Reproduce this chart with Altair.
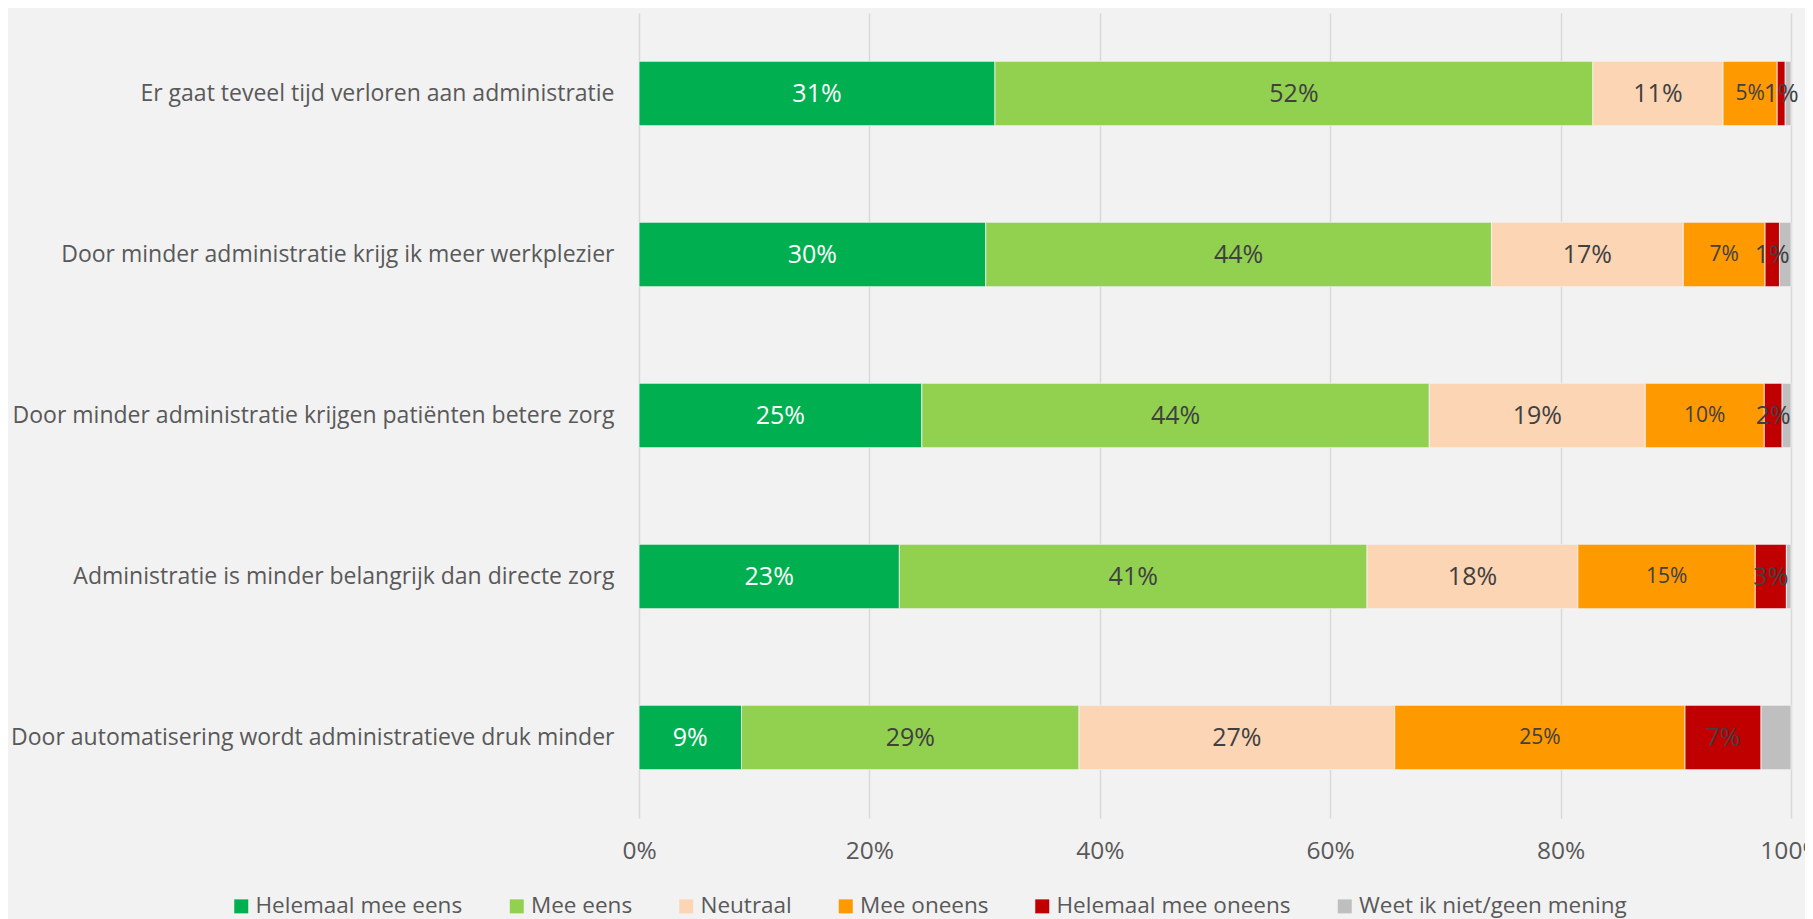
import altair as alt
import pandas as pd

questions = [
    "Er gaat teveel tijd verloren aan administratie",
    "Door minder administratie krijg ik meer werkplezier",
    "Door minder administratie krijgen patiënten betere zorg",
    "Administratie is minder belangrijk dan directe zorg",
    "Door automatisering wordt administratieve druk minder",
]
categories = [
    "Helemaal mee eens",
    "Mee eens",
    "Neutraal",
    "Mee oneens",
    "Helemaal mee oneens",
    "Weet ik niet/geen mening",
]
colors = ["#00B050", "#92D050", "#FCD5B5", "#FF9900", "#C00000", "#BFBFBF"]

helemaal_eens = [30.9, 30.1, 24.55, 22.6, 8.9]
mee_eens = [51.9, 43.9, 44.05, 40.6, 29.3]
neutraal = [11.3, 16.65, 18.75, 18.3, 27.4]
mee_oneens = [4.7, 7.1, 10.33, 15.4, 25.2]
helemaal_oneens = [0.7, 1.25, 1.55, 2.7, 6.6]
weet_niet = [0.5, 1.0, 0.77, 0.4, 2.6]

x_ticks = [0, 20, 40, 60, 80, 100]

series = [helemaal_eens, mee_eens, neutraal, mee_oneens, helemaal_oneens, weet_niet]
rows = []
for ci, (cat, vals) in enumerate(zip(categories, series)):
    for q, v in zip(questions, vals):
        rows.append({"q": q, "cat": cat, "idx": ci, "value": v})
df = pd.DataFrame(rows)

FONT = "Open Sans"

base = (
    alt.Chart(df)
    .transform_stack(stack="value", as_=["x0", "x1"], groupby=["q"], sort=[alt.SortField("idx", "ascending")])
    .transform_calculate(mid="(datum.x0 + datum.x1) / 2", lab="format(datum.value, '.0f') + '%'")
)

y_enc = alt.Y(
    "q:N",
    sort=questions,
    title=None,
    scale=alt.Scale(paddingInner=0.6, paddingOuter=0.3),
    axis=alt.Axis(labelFontSize=23, labelColor="#595959", labelFont=FONT, labelPadding=25,
                  labelLimit=700, domain=False, ticks=False, grid=False),
)

bars = base.mark_bar(stroke="#F2F2F2", strokeWidth=0.8).encode(
    y=y_enc,
    x=alt.X(
        "x0:Q",
        title=None,
        scale=alt.Scale(domain=[0, 100], nice=False),
        axis=alt.Axis(values=x_ticks, labelExpr="datum.value + '%'", labelFontSize=24.5, labelColor="#595959",
                      labelFont=FONT, labelPadding=21, labelFlush=False, domain=False, ticks=False, grid=True,
                      gridColor="#D9D9D9", gridWidth=1.5),
    ),
    x2="x1:Q",
    color=alt.Color(
        "cat:N",
        sort=categories,
        scale=alt.Scale(domain=categories, range=colors),
        legend=alt.Legend(
            title=None, orient="none", direction="horizontal", legendX=-409, legendY=882,
            symbolType="square", symbolSize=196, symbolStrokeWidth=0, labelFontSize=22.5,
            labelColor="#595959", labelFont=FONT, labelOffset=3, columnPadding=42.5, padding=0,
            labelLimit=500,
        ),
    ),
    order=alt.Order("idx:Q"),
)

texts = base.transform_filter("datum.cat !== 'Weet ik niet/geen mening'").mark_text(
    align="center", baseline="middle", font=FONT
).encode(
    y=alt.Y("q:N", sort=questions),
    x=alt.X("mid:Q"),
    text="lab:N",
    color=alt.condition("datum.cat === 'Helemaal mee eens'", alt.value("#FFFFFF"), alt.value("#404040")),
    size=alt.condition("datum.cat === 'Mee oneens'", alt.value(21), alt.value(25)),
)

chart = (
    alt.layer(bars, texts)
    .properties(
        width=1152,
        height=805,
        autosize=alt.AutoSizeParams(type="none"),
        padding={"left": 631, "top": 5, "right": 14, "bottom": 101},
        background="#F2F2F2",
    )
    .configure_view(stroke=None)
)

chart.save("out.html", embed_options={"renderer": "svg", "actions": False})
